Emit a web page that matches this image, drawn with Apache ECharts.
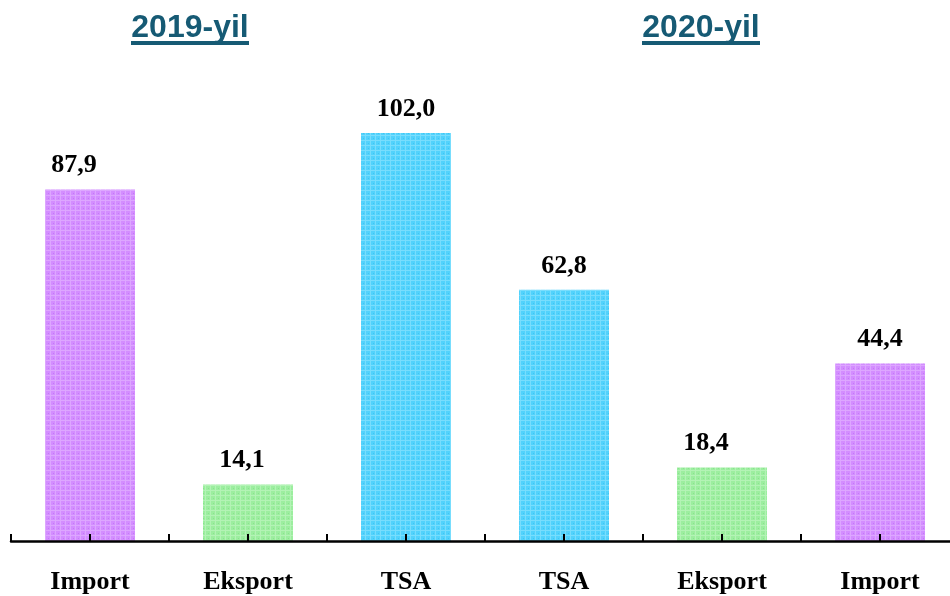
<!DOCTYPE html>
<html>
<head>
<meta charset="utf-8">
<script src="https://cdn.jsdelivr.net/npm/echarts@6/dist/echarts.min.js"></script>
<style>
  html, body { margin: 0; padding: 0; background: #fff; }
  #chart { width: 950px; height: 596px; }
</style>
</head>
<body>
<div id="chart"></div>
<script>
const categories = ["Import", "Eksport", "TSA", "TSA", "Eksport", "Import"];
const values = [87.9, 14.1, 102.0, 62.8, 18.4, 44.4];
const kinds = ["import", "eksport", "tsa", "tsa", "eksport", "import"];
const years = ["2019-yil", "2020-yil"];

// dotted texture like the original bars
function makePattern(base, light, dark) {
  const c = document.createElement("canvas");
  c.width = 5;
  c.height = 5;
  const ctx = c.getContext("2d");
  ctx.fillStyle = base;
  ctx.fillRect(0, 0, 5, 5);
  ctx.fillStyle = light;
  ctx.fillRect(0, 0, 5, 1);
  ctx.fillRect(0, 0, 1, 5);
  ctx.fillStyle = dark;
  ctx.fillRect(3, 3, 1, 1);
  return { image: c, repeat: "repeat" };
}

const fills = {
  import: makePattern("#d38dff", "#dda6ff", "#c578f6"),
  eksport: makePattern("#9cee9f", "#b3f3b5", "#8ae28e"),
  tsa: makePattern("#52d2fc", "#78ddfd", "#40c4f2"),
};

// small horizontal nudges of some value labels, as in the original
const labelShift = [-16, -6, 0, 0, -16, 0];

const myChart = echarts.init(document.getElementById("chart"));

const titleColor = "#165a74";
const titleFont = "bold 32px 'Liberation Sans', Arial, sans-serif";

function yearTitle(text, cx) {
  return {
    type: "group",
    children: [
      {
        type: "text",
        x: cx,
        y: 28,
        style: {
          text: text,
          font: titleFont,
          fill: titleColor,
          align: "center",
          verticalAlign: "middle",
        },
      },
      {
        type: "rect",
        shape: { x: cx - 59, y: 41, width: 118, height: 4 },
        style: { fill: titleColor },
      },
    ],
  };
}

const tickStyle = { color: "#000", width: 2 };

const option = {
  backgroundColor: "#fff",
  animation: false,
  grid: {
    left: 11,
    width: 948,
    top: 125,
    bottom: 55,
    outerBoundsMode: "none",
  },
  xAxis: [
    {
      type: "category",
      data: categories,
      z: 5,
      axisLine: { show: true, lineStyle: { color: "#000", width: 2.5 } },
      axisTick: { show: true, inside: true, length: 7, lineStyle: tickStyle },
      axisLabel: {
        margin: 28,
        color: "#000",
        fontSize: 26,
        fontWeight: "bold",
        fontFamily: "'Liberation Serif', 'Times New Roman', serif",
      },
    },
    {
      type: "category",
      data: categories,
      position: "bottom",
      z: 5,
      axisLine: { show: false },
      axisTick: {
        show: true,
        inside: true,
        alignWithLabel: true,
        length: 7,
        lineStyle: tickStyle,
      },
      axisLabel: { show: false },
    },
  ],
  yAxis: {
    type: "value",
    min: 0,
    max: 104,
    show: false,
  },
  graphic: [yearTitle(years[0], 190), yearTitle(years[1], 701)],
  series: [
    {
      type: "bar",
      barWidth: 90,
      z: 1,
      data: values.map((v, i) => ({
        value: v,
        itemStyle: { color: fills[kinds[i]] },
        label: { offset: [labelShift[i], 0] },
      })),
      label: {
        show: true,
        position: "top",
        distance: 11,
        color: "#000",
        fontSize: 26,
        fontWeight: "bold",
        fontFamily: "'Liberation Serif', 'Times New Roman', serif",
        formatter: (p) => p.value.toFixed(1).replace(".", ","),
      },
    },
  ],
};

myChart.setOption(option);
</script>
</body>
</html>
